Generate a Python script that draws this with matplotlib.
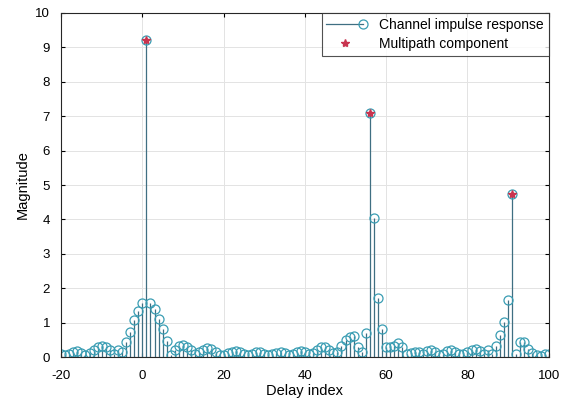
import matplotlib
matplotlib.use("Agg")
import matplotlib.pyplot as plt
import numpy as np
from matplotlib.lines import Line2D
from matplotlib.legend_handler import HandlerBase

plt.rcParams['font.family'] = ['Liberation Sans', 'DejaVu Sans']
plt.rcParams['axes.unicode_minus'] = False

# delay axis and channel magnitude per tap
delay = np.arange(-20, 101)
magnitude = np.array([
    # -20 .. -5
    0.08, 0.06, 0.10, 0.16, 0.18, 0.12, 0.06, 0.12, 0.22, 0.28, 0.31, 0.30, 0.20, 0.10, 0.22, 0.15,
    # -4 .. 6
    0.45, 0.72, 1.08, 1.33, 1.57, 9.20, 1.57, 1.40, 1.10, 0.82, 0.48,
    # 7 .. 48
    0.06, 0.22, 0.33, 0.36, 0.30, 0.20, 0.08, 0.14, 0.22, 0.26, 0.24, 0.16, 0.07, 0.06,
    0.12, 0.16, 0.18, 0.16, 0.10, 0.06, 0.10, 0.14, 0.14, 0.10, 0.06, 0.09, 0.13, 0.14,
    0.11, 0.06, 0.08, 0.14, 0.17, 0.15, 0.09, 0.12, 0.22, 0.28, 0.30, 0.22, 0.12, 0.15,
    # 49 .. 59
    0.32, 0.50, 0.58, 0.60, 0.28, 0.15, 0.70, 7.08, 4.05, 1.72, 0.83,
    # 60 .. 86
    0.30, 0.28, 0.32, 0.40, 0.28, 0.08, 0.12, 0.16, 0.14, 0.10, 0.18, 0.20, 0.14, 0.06,
    0.10, 0.18, 0.20, 0.15, 0.08, 0.10, 0.16, 0.22, 0.25, 0.18, 0.10, 0.20, 0.10,
    # 87 .. 100
    0.33, 0.64, 1.03, 1.66, 4.75, 0.10, 0.45, 0.45, 0.25, 0.12, 0.05, 0.04, 0.10, 0.08,
])
path_delays = [1, 56, 91]

STEM_COLOR = '#3f6f82'
CIRCLE_COLOR = '#3a9db3'
STAR_COLOR = '#c8344f'


class StemLegendHandler(HandlerBase):
    # line with the circle sitting at its right end, like matlab's stem legend
    def create_artists(self, legend, orig_handle, xdescent, ydescent,
                       width, height, fontsize, trans):
        y = (height - ydescent) / 2
        x0, x1 = -xdescent, width - xdescent
        ln = Line2D([x0, x1], [y, y], color=STEM_COLOR, linewidth=0.9)
        mk = Line2D([x1], [y], linestyle='none', marker='o', markersize=6.5,
                    markerfacecolor='none', markeredgecolor=CIRCLE_COLOR,
                    markeredgewidth=0.9)
        ln.set_transform(trans)
        mk.set_transform(trans)
        return [ln, mk]


fig = plt.figure(figsize=(5.71, 4.04), dpi=100)
ax = fig.add_axes([0.107, 0.116, 0.854, 0.852])

markerline, stemlines, baseline = ax.stem(delay, magnitude)
plt.setp(stemlines, color=STEM_COLOR, linewidth=0.9)
plt.setp(markerline, marker='o', markersize=6.5, markerfacecolor='none',
         markeredgecolor=CIRCLE_COLOR, markeredgewidth=0.9)
plt.setp(baseline, color=STEM_COLOR, linewidth=0.8)

path_mag = magnitude[np.searchsorted(delay, path_delays)]
stars, = ax.plot(path_delays, path_mag, linestyle='none', marker='*', markersize=6,
                 color=STAR_COLOR)

ax.set_xlim(-20, 100)
ax.set_ylim(0, 10)
ax.set_xticks(np.arange(-20, 101, 20))
ax.set_yticks(np.arange(0, 11, 1))
ax.grid(True, color='#e3e3e3', linewidth=0.7)
ax.set_axisbelow(True)
ax.tick_params(direction='in', top=True, right=True, labelsize=9.5, length=3)
ax.tick_params(axis='x', pad=9)
ax.tick_params(axis='y', pad=8)
for s in ax.spines.values():
    s.set_linewidth(0.8)
    s.set_color('#262626')

ax.set_xlabel('Delay index', fontsize=10.5, labelpad=2)
ax.set_ylabel('Magnitude', fontsize=10.5, labelpad=4)

stem_handle = Line2D([], [])
leg = ax.legend([stem_handle, stars], ['Channel impulse response', 'Multipath component'],
                handler_map={stem_handle: StemLegendHandler()},
                loc='upper right', fontsize=10, frameon=True, fancybox=False,
                borderaxespad=0.0, handlelength=2.6, handletextpad=1.2,
                borderpad=0.35, labelspacing=0.35)
leg.get_frame().set_edgecolor('#262626')
leg.get_frame().set_linewidth(0.8)

fig.savefig('out.png', dpi=100)
